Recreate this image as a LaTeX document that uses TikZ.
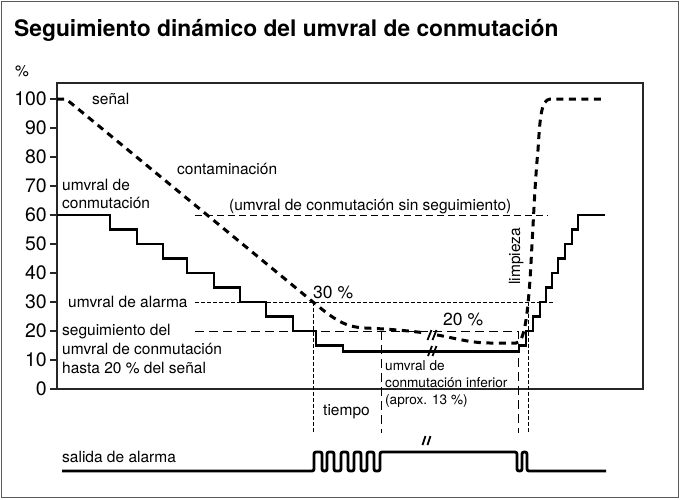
\documentclass[tikz,border=0pt]{standalone}
\usepackage{fontspec}
\setmainfont{TeX Gyre Heros}
\begin{document}
\begin{tikzpicture}[x=1pt,y=-1pt,
  lbl/.style={font=\fontsize{15.5}{18}\selectfont, inner sep=0, anchor=base west},
  sml/.style={font=\fontsize{13.6}{16}\selectfont, inner sep=0, anchor=base west},
  tickl/.style={font=\fontsize{19.5}{22}\selectfont, inner sep=0, anchor=east},
  pctl/.style={font=\fontsize{17.5}{20}\selectfont, inner sep=0, anchor=base west},
  sig/.style={line width=3pt, dash pattern=on 7pt off 5.5pt},
  thr/.style={line width=2.8pt, line join=miter},
  hfine/.style={line width=1pt, dash pattern=on 3.5pt off 2.5pt},
  hmed/.style={line width=1pt, dash pattern=on 7pt off 4pt},
  hlong/.style={line width=1pt, dash pattern=on 9pt off 5pt},
  brk/.style={line width=1.8pt},
  outp/.style={line width=2.8pt, rounded corners=2pt},
  axisl/.style={line width=1.4pt, black!85}]
\useasboundingbox (0,0) rectangle (681,499);
% outer frame
\draw[line width=1.4pt, black!65] (1.5,1.5) rectangle (678.5,497.5);
% title
\node[anchor=base west, inner sep=0, font=\bfseries\fontsize{22.8}{26}\selectfont] (title) at (14,36) {Seguimiento dinámico del umvral de conmutación};
% plot box
\draw[axisl] (57,83) rectangle (643,389);
\node[lbl] (pct) at (15,76) {\%};
\foreach \p in {0,10,...,100} {
  \draw[axisl] (50,{389-2.9*\p}) -- (57,{389-2.9*\p});
  \node[tickl] (t\p) at (47,{389-2.9*\p}) {\p};
}
% helper dashed lines
\draw[hmed] (195,215) -- (548,215);
\draw[hfine] (195,302) -- (553,302);
\draw[hlong] (195,331) -- (518,331) -- (518,433);
\draw[hfine] (313,302) -- (313,433);
\draw[hlong] (381,331) -- (381,433);
\draw[hfine] (528,302) -- (528,433);
% switching threshold staircase
\draw[thr] (57,215) -- (110,215) -- (110,229.5) -- (137,229.5) -- (137,244) -- (163,244) -- (163,258.5)
  -- (187,258.5) -- (187,273) -- (214,273) -- (214,287.5) -- (240,287.5) -- (240,302) -- (266,302)
  -- (266,316.5) -- (293,316.5) -- (293,331) -- (316,331) -- (316,345.5) -- (343,345.5) -- (343,351.3)
  -- (519,351.3) -- (519,345.5) -- (526,345.5) -- (526,331) -- (533,331) -- (533,316.5) -- (540,316.5)
  -- (540,302) -- (546,302) -- (546,287.5) -- (552,287.5) -- (552,273) -- (558,273) -- (558,258.5)
  -- (565,258.5) -- (565,244) -- (572,244) -- (572,229.5) -- (578,229.5) -- (578,215) -- (605,215);
% signal
\draw[sig] (57,99) -- (66,99) -- (313,302) .. controls (335,320) and (345,327) .. (365,328)
  .. controls (390,329) and (410,331) .. (426,333);
\draw[sig] (437,335) .. controls (455,338) and (470,343) .. (490,343) -- (516,343)
  .. controls (524,343) and (527,320) .. (530,280) .. controls (533,230) and (535,180) .. (538,150)
  .. controls (540,118) and (541,100) .. (550,99) -- (602,99);
% break marks
\draw[brk] (427.5,340) -- (431.5,330) (432.5,340) -- (436.5,330);
\draw[brk] (428,356) -- (432,346) (432.5,356) -- (436.5,346);
\draw[brk] (422.5,445) -- (425.5,436) (427.5,445) -- (430.5,436);
% alarm output
\draw[outp] (62,471) -- (314,471) -- (314,452) -- (322,452) -- (322,471) -- (327,471) -- (327,452)
  -- (334,452) -- (334,471) -- (341,471) -- (341,452) -- (348,452) -- (348,471) -- (354,471)
  -- (354,452) -- (361,452) -- (361,471) -- (367,471) -- (367,452) -- (374,452) -- (374,471)
  -- (380,471) -- (380,452) -- (517,452) -- (517,471) -- (522,471) -- (522,452) -- (527,452)
  -- (527,471) -- (606,471);
% labels
\node[lbl] (senal) at (92,104) {señal};
\node[lbl] (contam) at (177,174) {contaminación};
\node[lbl] (uc1) at (62,190) {umvral de};
\node[lbl] (uc2) at (62,208) {conmutación};
\node[lbl] (sinseg) at (229,210) {(umvral de conmutación sin seguimiento)};
\node[lbl] (alarma) at (68,307) {umvral de alarma};
\node[lbl] (seg1) at (62,335) {seguimiento del};
\node[lbl] (seg2) at (62,354) {umvral de conmutación};
\node[lbl] (seg3) at (62,373) {hasta 20 \% del señal};
\node[pctl] (p30) at (313,298) {30 \%};
\node[pctl] (p20) at (443,325) {20 \%};
\node[lbl] (tiempo) at (323,415) {tiempo};
\node[sml] (inf1) at (385,370) {umvral de};
\node[sml] (inf2) at (385,387) {conmutación inferior};
\node[sml] (inf3) at (385,404) {(aprox. 13 \%)};
\node[lbl, rotate=90] (limp) at (520,285) {limpieza};
\node[lbl] (salida) at (62,462) {salida de alarma};
\end{tikzpicture}
\end{document}
